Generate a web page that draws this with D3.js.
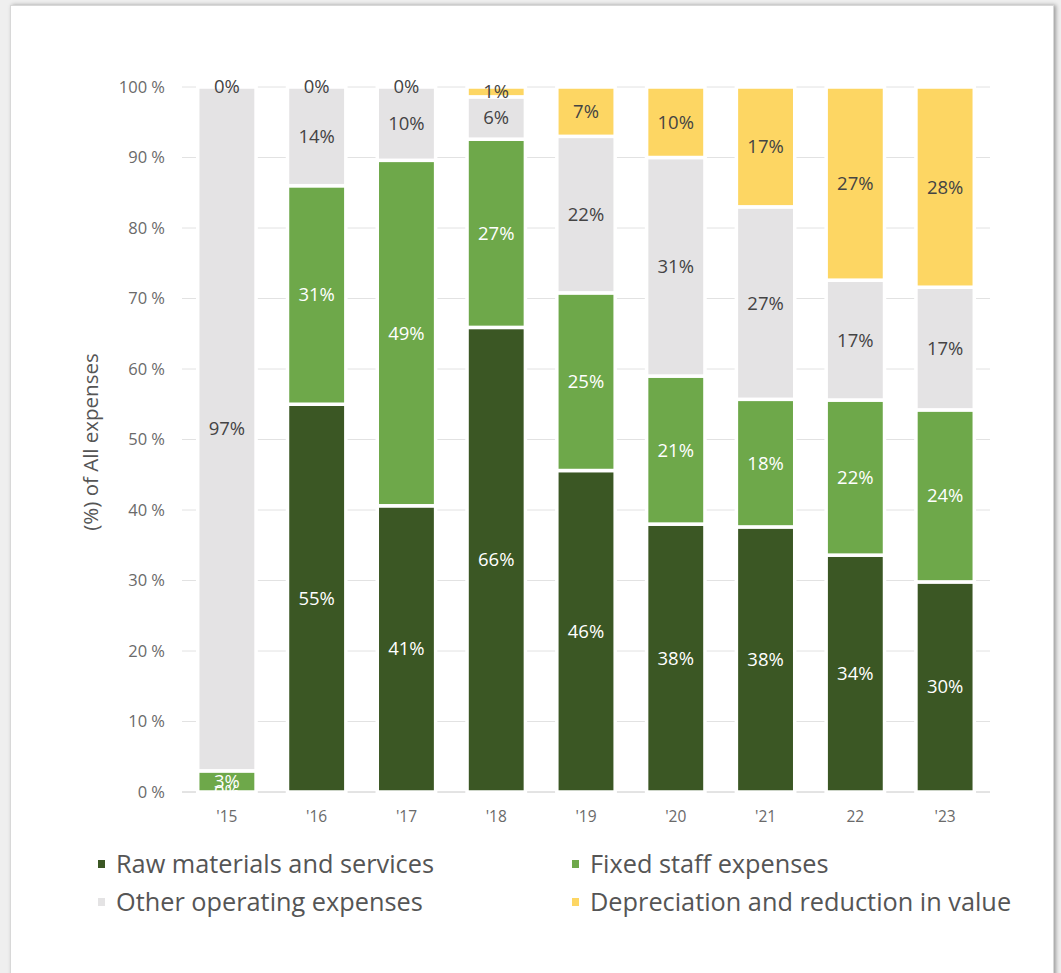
<!DOCTYPE html>
<html><head><meta charset="utf-8">
<script src="https://cdn.jsdelivr.net/npm/d3@7"></script>
<style>
html,body{margin:0;padding:0;background:#efefef;width:1061px;height:973px;overflow:hidden;}
#card{position:absolute;left:10px;top:5px;width:1042px;height:980px;background:#fff;border:1px solid #d8d8d8;box-shadow:2px 0 4px rgba(0,0,0,0.35);}
svg{position:absolute;left:0;top:0;}
text{font-family:"Open Sans",sans-serif;}
</style></head>
<body><div id="card"></div><svg id="chart" width="1061" height="973"></svg>
<script>
const categories = ["'15","'16","'17","'18","'19","'20","'21","22","'23"];
const seriesNames = ["Raw materials and services","Fixed staff expenses","Other operating expenses","Depreciation and reduction in value"];
const rawMaterials = [0, 55, 40.6, 65.9, 45.6, 38, 37.6, 33.6, 29.8];
const fixedStaff   = [3, 31, 49.0, 26.7, 25.2, 21, 18.1, 22.0, 24.4];
const otherOps     = [97, 14, 10.4, 6.0, 22.2, 31, 27.3, 17.0, 17.4];
const depreciation = [0, 0, 0, 1.4, 7.0, 10, 17.0, 27.4, 28.4];
const yTicks = [0,10,20,30,40,50,60,70,80,90,100];
const colors = ["#3b5724","#6ea84a","#e4e3e4","#fdd663"];
const labelColors = ["#ffffff","#ffffff","#444444","#444444"];

const seriesVals = [rawMaterials, fixedStaff, otherOps, depreciation];
const rows = categories.map((c,i)=>{
  const o = {cat:c};
  seriesNames.forEach((s,k)=>o[s]=seriesVals[k][i]);
  return o;
});
const stack = d3.stack().keys(seriesNames)(rows);

const svg = d3.select("#chart");
const x = d3.scaleBand().domain(categories).range([182,990]).paddingInner(0.35).paddingOuter(0.175);
const y = d3.scaleLinear().domain([0,100]).range([792,87]);

// gridlines
svg.append("g").selectAll("line").data(yTicks).join("line")
  .attr("x1",182).attr("x2",990)
  .attr("y1",d=>y(d)).attr("y2",d=>y(d))
  .attr("stroke",d=>d===0?"#c8c8c8":"#e2e2e2").attr("stroke-width",1);

// y axis
const yAxis = d3.axisLeft(y).tickValues(yTicks).tickFormat(d=>d+" %").tickSize(0).tickPadding(17);
const ya = svg.append("g").attr("transform","translate(182,0)").call(yAxis);
ya.select(".domain").remove();
ya.selectAll("text").attr("font-size",16.5).attr("fill","#6a6a6a").attr("font-family","Open Sans");

// x axis
const xAxis = d3.axisBottom(x).tickSize(0).tickPadding(19);
const xa = svg.append("g").attr("transform","translate(0,792)").call(xAxis);
xa.select(".domain").remove();
xa.selectAll("text").attr("font-size",15.5).attr("fill","#6a6a6a").attr("font-family","Open Sans");

// y title
svg.append("text").attr("transform","translate(98,442) rotate(-90)")
  .attr("text-anchor","middle").attr("font-size",20.5).attr("fill","#555")
  .text("(%) of All expenses");

// bars
stack.forEach((s,k)=>{
  svg.append("g").selectAll("rect").data(s).join("rect")
    .attr("x",d=>x(d.data.cat)).attr("width",x.bandwidth())
    .attr("y",d=>y(d[1])).attr("height",d=>Math.max(0,y(d[0])-y(d[1])))
    .attr("fill",colors[k]).attr("stroke","#fff").attr("stroke-width",3.5);
});
// labels
stack.forEach((s,k)=>{
  svg.append("g").selectAll("text").data(s).join("text")
    .attr("x",d=>x(d.data.cat)+x.bandwidth()/2)
    .attr("y",d=>y((d[0]+d[1])/2))
    .attr("dy","0.35em").attr("text-anchor","middle")
    .attr("font-size",18.5).attr("fill",labelColors[k])
    .text(d=>Math.round(d[1]-d[0])+"%");
});

// legend
const legendPos = [[98,864],[572,864],[98,902],[572,902]];
seriesNames.forEach((s,k)=>{
  const [lx,ly]=legendPos[k];
  svg.append("rect").attr("x",lx).attr("y",ly-4).attr("width",7).attr("height",8).attr("fill",colors[k]);
  svg.append("text").attr("x",lx+18).attr("y",ly).attr("dy","0.35em")
    .attr("font-size",25.3).attr("fill","#555").text(s);
});
</script></body></html>
